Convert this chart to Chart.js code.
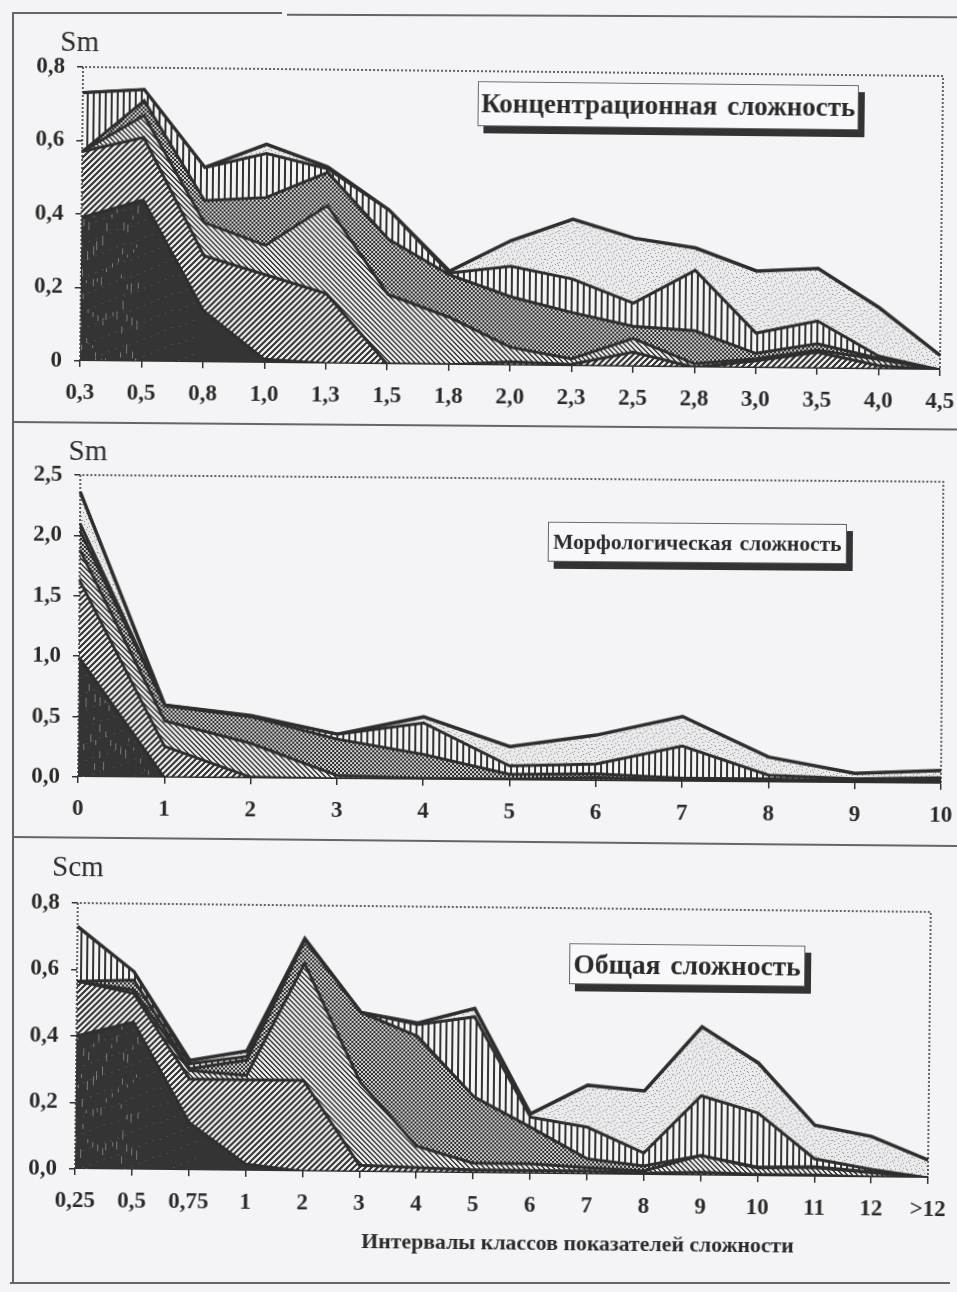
<!DOCTYPE html>
<html lang="ru"><head><meta charset="utf-8">
<script src="https://cdn.jsdelivr.net/npm/chart.js@4"></script>
<style>
html,body{margin:0;padding:0;background:#f4f4f6;width:957px;height:1292px;overflow:hidden}
#page{position:relative;width:957px;height:1292px;overflow:hidden;filter:blur(.35px)}
.wrap{position:absolute;left:0;width:1000px}
.wrap canvas{position:absolute;left:0;top:0}
.lbl{position:absolute;font-family:"Liberation Serif",serif;color:#2a2a2a;white-space:nowrap;line-height:1}
.box{position:absolute;font-family:"Liberation Serif",serif;font-weight:bold;color:#2a2a2a;white-space:nowrap;
 border:1.5px solid #666;background:#f8f8fa;box-shadow:6px 7px 0 #333;box-sizing:border-box;display:flex;align-items:center;justify-content:center}
.rule{position:absolute;background:#666}
</style></head><body>
<div id="page">
 <div class="rule" style="left:12px;top:12px;width:270px;height:1.5px"></div>
 <div class="rule" style="left:287px;top:15px;width:670px;height:2px;transform:rotate(.2deg)"></div>
 <div class="rule" style="left:12px;top:12px;width:1.5px;height:1270px"></div>
 <div class="rule" style="left:12px;top:421px;width:945px;height:2px;transform:rotate(.45deg);transform-origin:0 0"></div>
 <div class="rule" style="left:12px;top:836px;width:945px;height:2px;transform:rotate(.55deg);transform-origin:0 0"></div>
 <div class="rule" style="left:10px;top:1282px;width:940px;height:2px"></div>

 <div class="wrap" id="w1" style="top:20px;height:410px;transform-origin:80px 341px;transform:rotate(.6deg)">
  <canvas id="c1" width="1000" height="410" style="width:1000px;height:410px"></canvas>
  <div class="lbl" style="left:57px;top:7px;font-size:29px">Sm</div>
  <div class="box" style="left:475px;top:57px;width:381px;height:45px;font-size:27px;word-spacing:3px">Концентрационная сложность</div>
 </div>
 <div class="wrap" id="w2" style="top:430px;height:410px;transform-origin:78px 347px;transform:rotate(.45deg)">
  <canvas id="c2" width="1000" height="410" style="width:1000px;height:410px"></canvas>
  <div class="lbl" style="left:66px;top:6px;font-size:29px">Sm</div>
  <div class="box" style="left:546px;top:88px;width:299px;height:40px;font-size:21.5px;word-spacing:2px">Морфологическая сложность</div>
 </div>
 <div class="wrap" id="w3" style="top:850px;height:400px;transform-origin:75px 319px;transform:rotate(.6deg)">
  <canvas id="c3" width="1000" height="400" style="width:1000px;height:400px"></canvas>
  <div class="lbl" style="left:49px;top:2px;font-size:29px">Scm</div>
  <div class="box" style="left:567px;top:88px;width:236px;height:41px;font-size:27.5px;word-spacing:3px">Общая сложность</div>
  <div class="lbl" style="left:362px;top:378px;font-size:21.8px;font-weight:bold">Интервалы классов показателей сложности</div>
 </div>
</div>
<script>
// ----- Chart 1: Концентрационная сложность -----
const concCategories = ["0,3","0,5","0,8","1,0","1,3","1,5","1,8","2,0","2,3","2,5","2,8","3,0","3,5","4,0","4,5"];
const concTicks = ["0","0,2","0,4","0,6","0,8"];
const concA = [.39,.44,.14,.01,0,0,0,0,0,0,0,0,0,0,0];
const concB = [.18,.17,.15,.23,.19,0,0,.01,.005,.04,0,.02,.045,.01,0];
const concC = [0,.06,.09,.08,.24,.19,.13,.04,.015,.037,.01,.005,.005,.017,0];
const concD = [0,.04,.06,.13,.09,.15,.115,.137,.126,.033,.09,.015,.018,.003,0];
const concV = [.16,.03,.09,.12,.01,.08,.005,.083,.091,.063,.164,.055,.062,.006,0];
const concE = [0,0,0,.025,.005,0,.005,.07,.163,.177,.061,.169,.143,.132,.04];
// ----- Chart 2: Морфологическая сложность -----
const morphCategories = ["0","1","2","3","4","5","6","7","8","9","10"];
const morphTicks = ["0,0","0,5","1,0","1,5","2,0","2,5"];
const morphA = [.99,0,0,0,0,0,0,0,0,0,0];
const morphB = [.64,.26,.01,0,0,0,0,0,0,0,0];
const morphC = [.25,.21,.28,.03,.01,.01,.03,.01,.01,.01,.02];
const morphD = [.16,.125,.22,.30,.20,.04,.03,.02,.02,.01,.01];
const morphV = [.06,.005,.005,.04,.26,.07,.08,.265,.03,.015,.02];
const morphE = [.26,0,.005,0,.05,.16,.24,.245,.15,.045,.06];
// ----- Chart 3: Общая сложность -----
const totalCategories = ["0,25","0,5","0,75","1","2","3","4","5","6","7","8","9","10","11","12",">12"];
const totalTicks = ["0,0","0,2","0,4","0,6","0,8"];
const totalA = [.40,.444,.143,.02,0,0,0,0,0,0,0,0,0,0,0,0];
const totalB = [.165,.086,.131,.254,.274,.02,.015,.01,.01,.01,.005,.01,.005,.005,0,0];
const totalC = [0,.01,.026,.013,.351,.25,.065,.02,.02,.01,.007,.05,.02,.023,.014,0];
const totalD = [0,.03,.005,.046,.07,.21,.33,.20,.11,.027,.015,0,.002,.002,.002,0];
const totalV = [.163,.025,.015,.011,.005,0,.035,.24,.03,.095,.039,.18,.163,.024,.008,0];
const totalE = [.002,0,.01,.016,0,0,.005,.025,.01,.126,.187,.207,.15,.101,.099,.054];

const INK = '#2e2e2e';
function tile(w,h,paint){
  const c=document.createElement('canvas');c.width=w;c.height=h;
  const x=c.getContext('2d');paint(x);
  return x.createPattern(c,'repeat');
}
function pixels(w,h,bg,fg,test){
  return tile(w,h,g=>{g.fillStyle=bg;g.fillRect(0,0,w,h);g.fillStyle=fg;
    for(let y=0;y<h;y++)for(let x=0;x<w;x++)if(test(x,y))g.fillRect(x,y,1,1);});
}
function patA(from,to){
  return tile(957,170,g=>{g.fillStyle='#343434';g.fillRect(0,0,957,170);
    g.fillStyle='#7a7a7a';
    for(let x=from;x<to;x+=5){for(let y=(x*13)%37;y<170;y+=23+(x*7)%31){g.fillRect(x+(y%3),y,1,3+((x+y)%7));}}
    g.fillStyle='#4c4c4c';
    for(let x=from;x<to+60;x+=7){for(let y=(x*5)%19;y<170;y+=17){g.fillRect(x,y,2,1);}}
  });
}
const patB=pixels(6,6,'#efefef','#383838',(x,y)=>((x+y)%6)<3);
const patC=pixels(5,5,'#eaeaea','#3a3a3a',(x,y)=>((x-y+10)%5)<2);
const patD=pixels(4,4,'#2a2a2a','#d4d4d4',(x,y)=>(x<2)===(y<2));
const patV=pixels(6,1,'#f4f4f4','#333333',(x,y)=>x<2);
const stip=[[1,2],[5,1],[9,3],[13,0],[3,6],[7,5],[11,7],[15,6],[0,10],[4,9],[8,11],[12,10],[2,14],[6,13],[10,15],[14,13],[6,8],[14,3],[2,11],[10,6],[7,0],[15,10],[4,3],[12,14]];
const patE=pixels(16,16,'#ebebed','#8e8e8e',(x,y)=>stip.some(p=>p[0]===x&&p[1]===y));

const framePlugin={id:'frame',afterDraw(ch){
  const a=ch.chartArea,g=ch.ctx;g.save();g.strokeStyle='#333';g.lineWidth=1.5;g.setLineDash([2,2]);
  g.beginPath();g.moveTo(a.left,a.bottom);g.lineTo(a.left,a.top);g.lineTo(a.right,a.top);g.lineTo(a.right,a.bottom);g.stroke();g.restore();
}};

function build(id,cats,series,tickLabels,yMax,yStep,geo,pa){
  const fills=[pa,patB,patC,patD,patV,patE];
  new Chart(document.getElementById(id),{
    type:'line',
    data:{labels:cats,datasets:series.map((d,i)=>({
      data:d,fill:i===0?'origin':'-1',backgroundColor:fills[i],borderColor:INK,
      borderWidth:i===5?3.5:3,pointRadius:0,tension:0,borderJoinStyle:'miter'}))},
    plugins:[framePlugin],
    options:{responsive:false,animation:false,events:[],
      layout:{autoPadding:false,padding:{left:0,right:geo.right,top:geo.top,bottom:0}},
      plugins:{legend:{display:false},tooltip:{enabled:false},title:{display:false}},
      scales:{
        x:{stacked:true,offset:false,
          afterFit(s){s.height=geo.xH;},
          grid:{display:true,drawOnChartArea:false,drawTicks:true,tickLength:6,color:'#333',lineWidth:1.5},
          border:{display:false},
          ticks:{maxRotation:0,autoSkip:false,padding:12,color:'#2a2a2a',
            font:{family:'"Liberation Serif"',weight:'bold',size:23}}},
        y:{stacked:true,min:0,max:yMax,
          afterFit(s){s.width=geo.yW;},
          grid:{display:true,drawOnChartArea:false,drawTicks:true,tickLength:6,color:'#333',lineWidth:1.5},
          border:{display:false},
          ticks:{stepSize:yStep,padding:12,color:'#2a2a2a',
            font:{family:'"Liberation Serif"',weight:'bold',size:23},
            callback:(v,i)=>tickLabels[i]}}
      }}
  });
}
build('c1',concCategories,[concA,concB,concC,concD,concV,concE],concTicks,.8,.2,{yW:80,right:60,top:47,xH:69},patA(80,136));
build('c2',morphCategories,[morphA,morphB,morphC,morphD,morphV,morphE],morphTicks,2.5,.5,{yW:78,right:59,top:45,xH:63},patA(78,150));
build('c3',totalCategories,[totalA,totalB,totalC,totalD,totalV,totalE],totalTicks,.8,.2,{yW:75,right:72,top:53,xH:81},patA(75,137));
</script>
</body></html>
